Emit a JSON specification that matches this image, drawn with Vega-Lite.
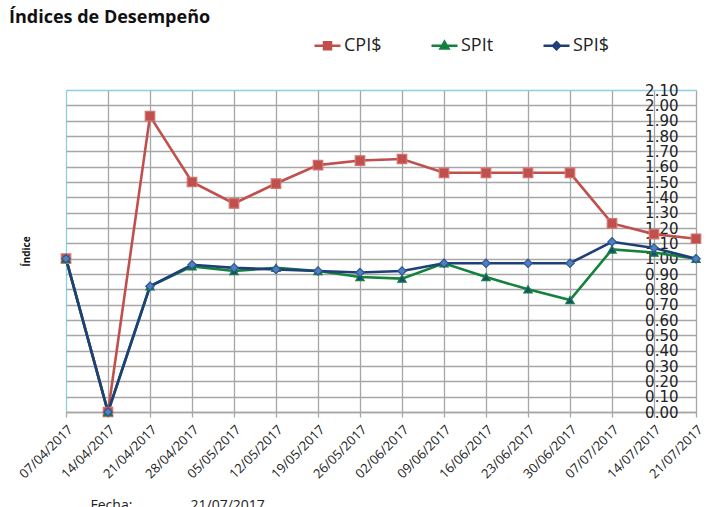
{
  "$schema": "https://vega.github.io/schema/vega-lite/v6.json",
  "width": 630,
  "height": 322,
  "autosize": {"type": "none"},
  "padding": {"left": 66, "top": 90, "right": 32, "bottom": 95},
  "background": "white",
  "title": {"text": "Índices de Desempeño", "anchor": "start", "frame": "group", "font": "Open Sans", "fontSize": 18, "fontWeight": "bold", "color": "#111", "dx": -57, "offset": 4},
  "config": {"view": {"stroke": null}},
  "data": {"values": [
    {"n": 1, "fecha": "07/04/2017", "serie": "CPI$", "valor": 1.00},
    {"n": 2, "fecha": "14/04/2017", "serie": "CPI$", "valor": 0.00},
    {"n": 3, "fecha": "21/04/2017", "serie": "CPI$", "valor": 1.93},
    {"n": 4, "fecha": "28/04/2017", "serie": "CPI$", "valor": 1.50},
    {"n": 5, "fecha": "05/05/2017", "serie": "CPI$", "valor": 1.36},
    {"n": 6, "fecha": "12/05/2017", "serie": "CPI$", "valor": 1.49},
    {"n": 7, "fecha": "19/05/2017", "serie": "CPI$", "valor": 1.61},
    {"n": 8, "fecha": "26/05/2017", "serie": "CPI$", "valor": 1.64},
    {"n": 9, "fecha": "02/06/2017", "serie": "CPI$", "valor": 1.65},
    {"n": 10, "fecha": "09/06/2017", "serie": "CPI$", "valor": 1.56},
    {"n": 11, "fecha": "16/06/2017", "serie": "CPI$", "valor": 1.56},
    {"n": 12, "fecha": "23/06/2017", "serie": "CPI$", "valor": 1.56},
    {"n": 13, "fecha": "30/06/2017", "serie": "CPI$", "valor": 1.56},
    {"n": 14, "fecha": "07/07/2017", "serie": "CPI$", "valor": 1.23},
    {"n": 15, "fecha": "14/07/2017", "serie": "CPI$", "valor": 1.16},
    {"n": 16, "fecha": "21/07/2017", "serie": "CPI$", "valor": 1.13},
    {"n": 1, "fecha": "07/04/2017", "serie": "SPIt", "valor": 1.00},
    {"n": 2, "fecha": "14/04/2017", "serie": "SPIt", "valor": 0.00},
    {"n": 3, "fecha": "21/04/2017", "serie": "SPIt", "valor": 0.82},
    {"n": 4, "fecha": "28/04/2017", "serie": "SPIt", "valor": 0.95},
    {"n": 5, "fecha": "05/05/2017", "serie": "SPIt", "valor": 0.92},
    {"n": 6, "fecha": "12/05/2017", "serie": "SPIt", "valor": 0.94},
    {"n": 7, "fecha": "19/05/2017", "serie": "SPIt", "valor": 0.92},
    {"n": 8, "fecha": "26/05/2017", "serie": "SPIt", "valor": 0.88},
    {"n": 9, "fecha": "02/06/2017", "serie": "SPIt", "valor": 0.87},
    {"n": 10, "fecha": "09/06/2017", "serie": "SPIt", "valor": 0.97},
    {"n": 11, "fecha": "16/06/2017", "serie": "SPIt", "valor": 0.88},
    {"n": 12, "fecha": "23/06/2017", "serie": "SPIt", "valor": 0.80},
    {"n": 13, "fecha": "30/06/2017", "serie": "SPIt", "valor": 0.73},
    {"n": 14, "fecha": "07/07/2017", "serie": "SPIt", "valor": 1.06},
    {"n": 15, "fecha": "14/07/2017", "serie": "SPIt", "valor": 1.04},
    {"n": 16, "fecha": "21/07/2017", "serie": "SPIt", "valor": 1.00},
    {"n": 1, "fecha": "07/04/2017", "serie": "SPI$", "valor": 1.00},
    {"n": 2, "fecha": "14/04/2017", "serie": "SPI$", "valor": 0.00},
    {"n": 3, "fecha": "21/04/2017", "serie": "SPI$", "valor": 0.82},
    {"n": 4, "fecha": "28/04/2017", "serie": "SPI$", "valor": 0.96},
    {"n": 5, "fecha": "05/05/2017", "serie": "SPI$", "valor": 0.94},
    {"n": 6, "fecha": "12/05/2017", "serie": "SPI$", "valor": 0.93},
    {"n": 7, "fecha": "19/05/2017", "serie": "SPI$", "valor": 0.92},
    {"n": 8, "fecha": "26/05/2017", "serie": "SPI$", "valor": 0.91},
    {"n": 9, "fecha": "02/06/2017", "serie": "SPI$", "valor": 0.92},
    {"n": 10, "fecha": "09/06/2017", "serie": "SPI$", "valor": 0.97},
    {"n": 11, "fecha": "16/06/2017", "serie": "SPI$", "valor": 0.97},
    {"n": 12, "fecha": "23/06/2017", "serie": "SPI$", "valor": 0.97},
    {"n": 13, "fecha": "30/06/2017", "serie": "SPI$", "valor": 0.97},
    {"n": 14, "fecha": "07/07/2017", "serie": "SPI$", "valor": 1.11},
    {"n": 15, "fecha": "14/07/2017", "serie": "SPI$", "valor": 1.07},
    {"n": 16, "fecha": "21/07/2017", "serie": "SPI$", "valor": 1.00}
  ]},
  "encoding": {
    "x": {
      "field": "fecha", "type": "nominal", "sort": null,
      "scale": {"type": "point", "padding": 0},
      "axis": {
        "title": "Fecha:\u00a0\u00a0\u00a0\u00a0\u00a0\u00a0\u00a0\u00a0\u00a0\u00a0\u00a0\u00a0\u00a0\u00a0\u00a0\u00a021/07/2017",
        "titleFont": "Open Sans", "titleFontSize": 14, "titleFontWeight": "normal", "titleColor": "#222",
        "titleAnchor": "start", "titleAlign": "left", "titleBaseline": "middle", "titleX": 24, "titleY": 93,
        "labelAngle": -45, "labelFont": "Open Sans", "labelFontSize": 13, "labelColor": "#222", "labelPadding": 6,
        "grid": true, "gridColor": {"condition": {"test": "datum.value === '07/04/2017'", "value": "#8ccfe0"}, "value": "#a6a6a6"}, "gridWidth": 1.3,
        "domainColor": "#a6a6a6", "domainWidth": 1.3, "tickColor": "#a6a6a6", "tickSize": 5, "tickWidth": 1.3
      }
    },
    "y": {
      "field": "valor", "type": "quantitative",
      "scale": {"domain": [0, 2.1], "nice": false, "zero": true},
      "axis": {
        "orient": "right",
        "values": [0, 0.1, 0.2, 0.3, 0.4, 0.5, 0.6, 0.7, 0.8, 0.9, 1.0, 1.1, 1.2, 1.3, 1.4, 1.5, 1.6, 1.7, 1.8, 1.9, 2.0, 2.1],
        "format": ".2f", "labelFont": "DejaVu Sans", "labelFontSize": 15, "labelColor": "#222",
        "labelAlign": "right", "labelPadding": -18, "labelBaseline": "middle",
        "ticks": false, "domain": false, "grid": true,
        "gridColor": {"condition": {"test": "datum.value === 2.1", "value": "#8ccfe0"}, "value": "#a6a6a6"}, "gridWidth": 1.3,
        "title": "Índice", "titleFont": "Open Sans", "titleFontSize": 10, "titleFontWeight": "bold", "titleColor": "#111",
        "titleAngle": -90, "titleX": -670, "titleY": 161, "titleAlign": "center", "titleBaseline": "middle"
      }
    }
  },
  "layer": [
    {
      "mark": {"type": "line", "strokeWidth": 2.6},
      "encoding": {
        "color": {
          "field": "serie", "type": "nominal", "sort": ["CPI$", "SPIt", "SPI$"],
          "scale": {"domain": ["CPI$", "SPIt", "SPI$"], "range": ["#c0504d", "#13823c", "#1f3f7a"]},
          "legend": {
            "orient": "none", "direction": "horizontal", "title": null,
            "legendX": 247, "legendY": -59, "padding": 0,
            "labelFont": "Open Sans", "labelFontSize": 18, "labelColor": "#222", "labelOffset": 2,
            "columnPadding": 44, "symbolSize": 676, "symbolStrokeWidth": 2.5,
            "encode": {"symbols": {"update": {
              "shape": {"signal": "datum.value === 'CPI$' ? 'M-1,0H1M-0.27,-0.27H0.27V0.27H-0.27Z' : datum.value === 'SPIt' ? 'M-1,0H1M0,-0.3L0.3,0.22H-0.3Z' : 'M-1,0H1M0,-0.27L0.27,0L0,0.27L-0.27,0Z'"},
              "fill": {"signal": "datum.value === 'CPI$' ? '#c0504d' : datum.value === 'SPIt' ? '#1f497d' : '#4f81bd'"},
              "fillOpacity": {"value": 1},
              "strokeWidth": {"value": 2.5}
            }}}
          }
        },
        "order": {"field": "n", "type": "quantitative"}
      }
    },
    {
      "transform": [{"filter": "datum.serie === 'CPI$'"}],
      "mark": {"type": "point", "shape": "square", "filled": true, "fill": "#c0504d", "stroke": "#d4716e", "strokeWidth": 1.2, "size": 90, "opacity": 1}
    },
    {
      "transform": [{"filter": "datum.serie === 'SPIt'"}],
      "mark": {"type": "point", "shape": "triangle-up", "filled": true, "fill": "#1f497d", "stroke": "#13823c", "strokeWidth": 1.2, "size": 70, "opacity": 1}
    },
    {
      "transform": [{"filter": "datum.serie === 'SPI$'"}],
      "mark": {"type": "point", "shape": "diamond", "filled": true, "fill": "#4f81bd", "stroke": "#2f5597", "strokeWidth": 1.2, "size": 70, "opacity": 1}
    }
  ]
}
